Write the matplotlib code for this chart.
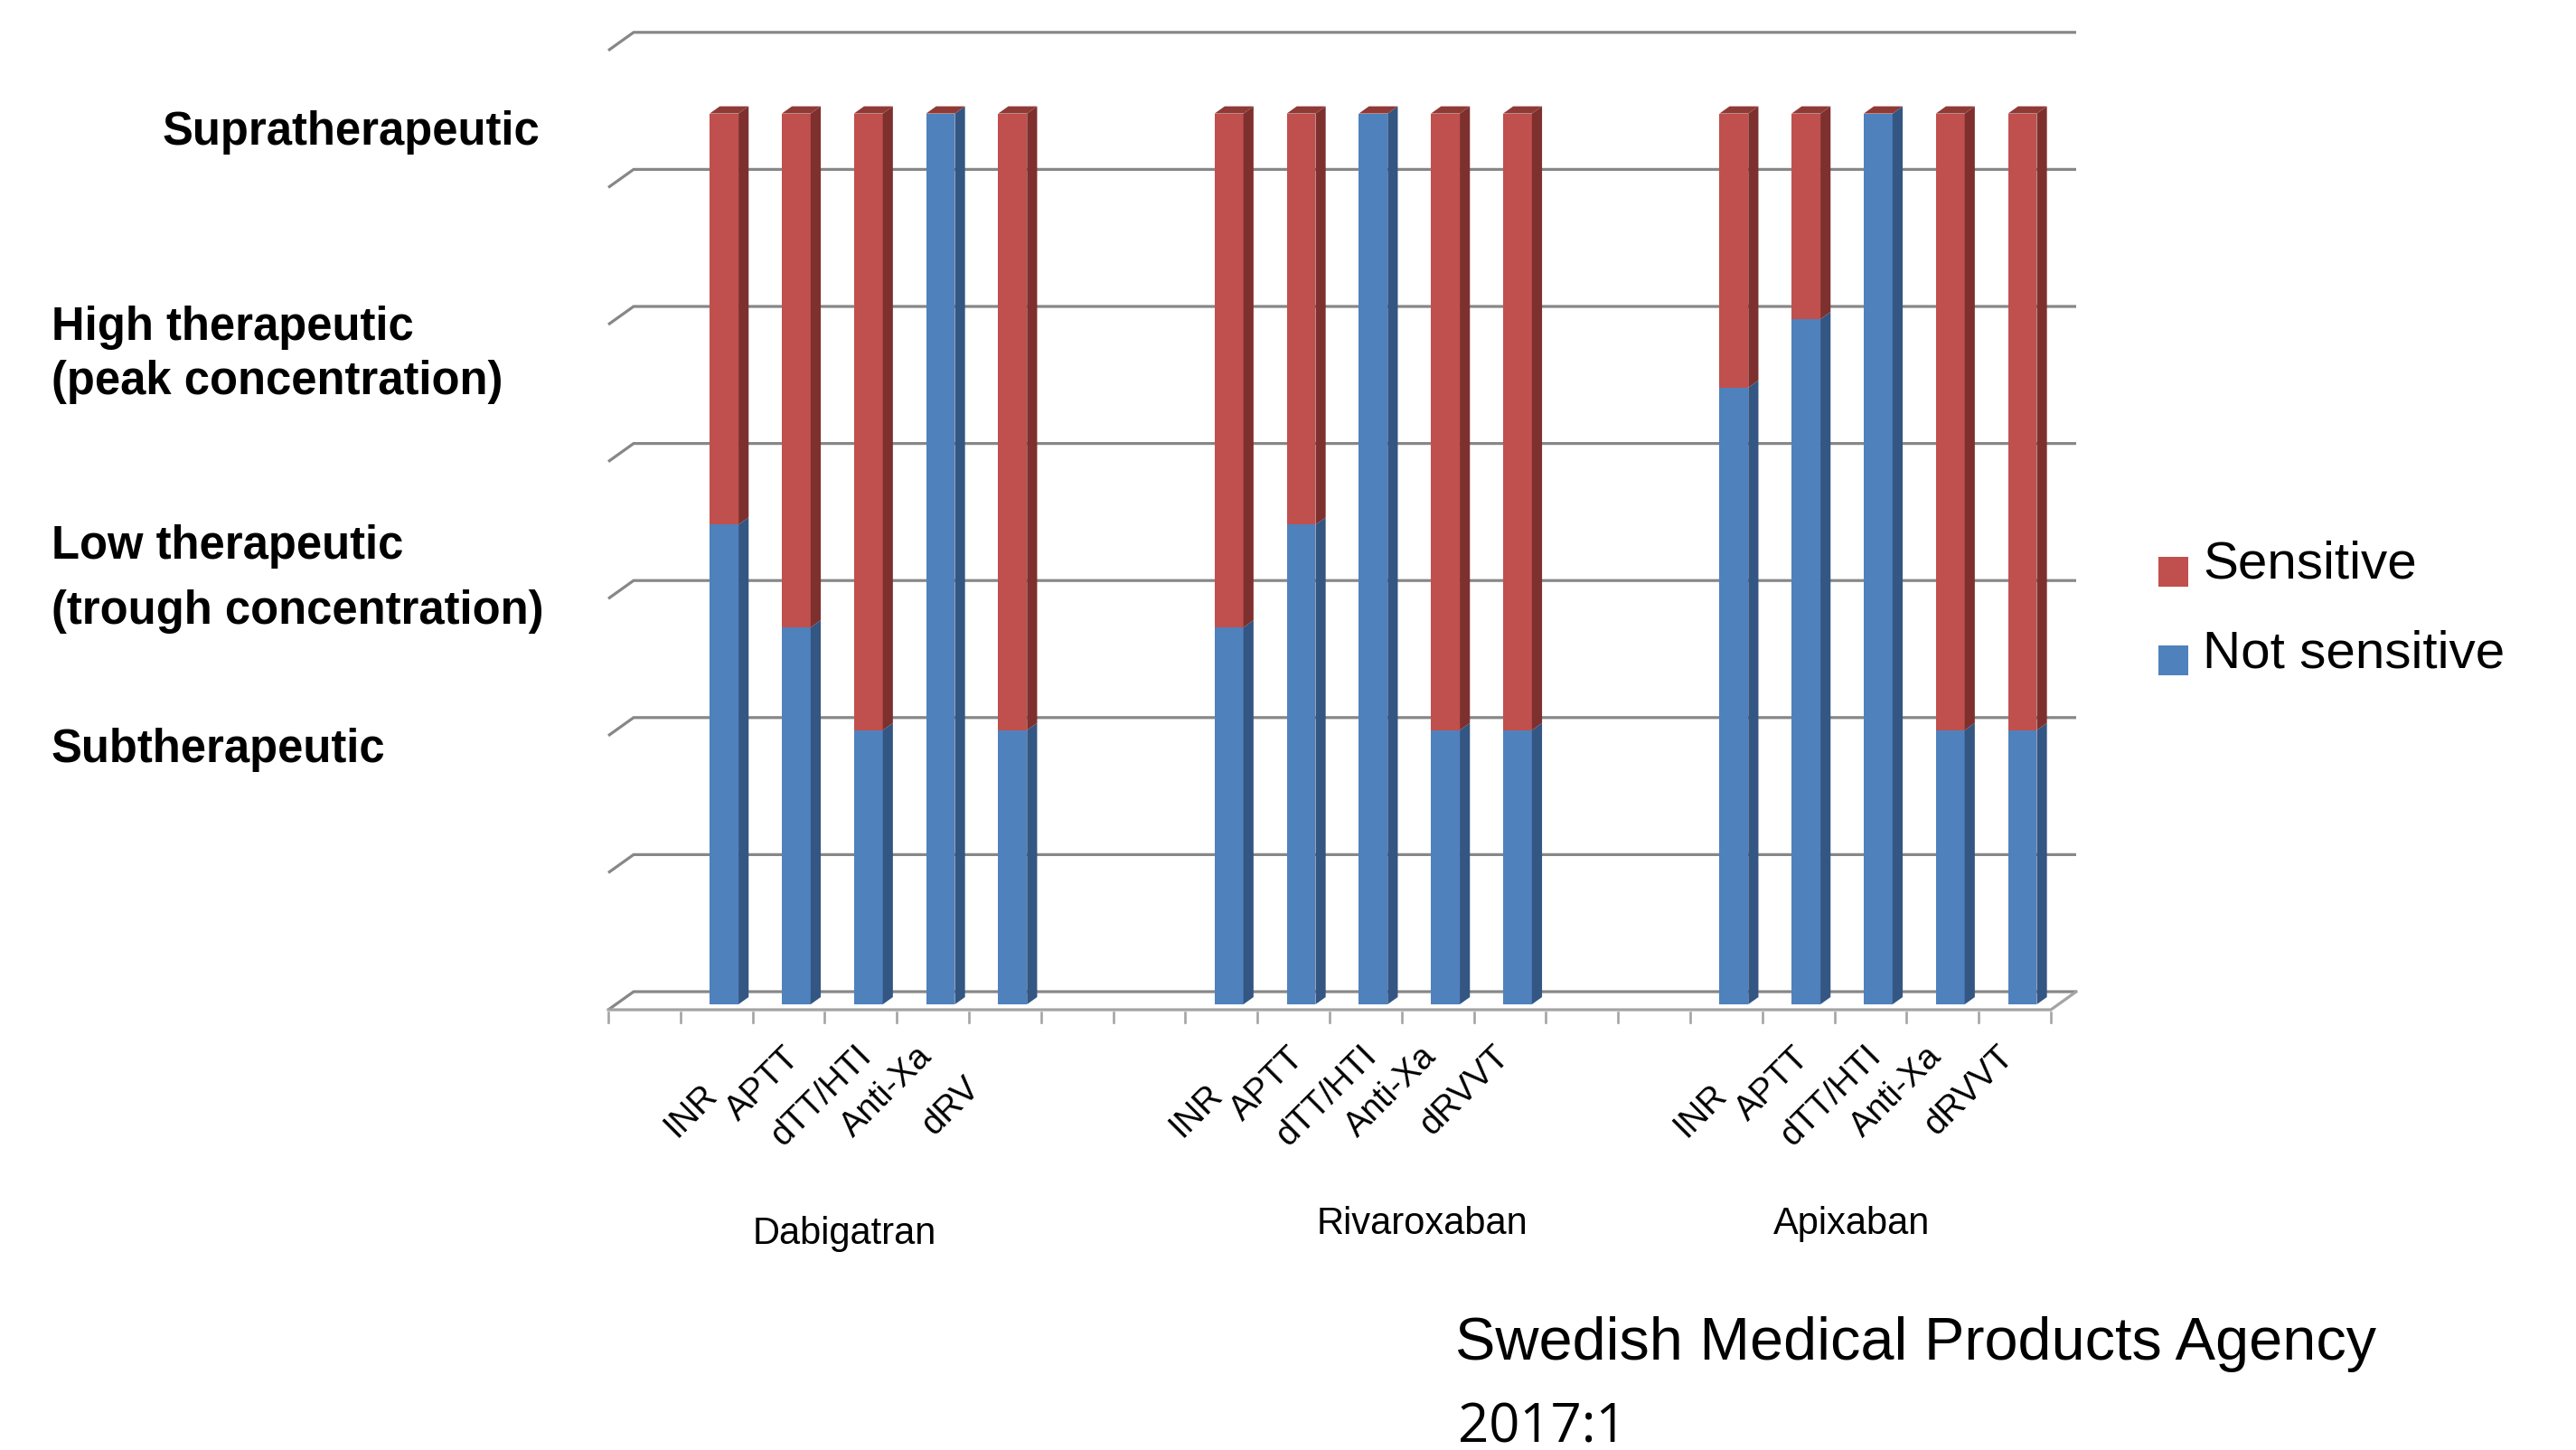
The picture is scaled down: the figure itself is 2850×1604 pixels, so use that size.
import matplotlib
matplotlib.use("Agg")
import matplotlib.pyplot as plt
from matplotlib.patches import Polygon, Rectangle

# ---- data -------------------------------------------------------------
drugs = ["Dabigatran", "Rivaroxaban", "Apixaban"]
tests = [
    ["INR", "APTT", "dTT/HTI", "Anti-Xa", "dRV"],
    ["INR", "APTT", "dTT/HTI", "Anti-Xa", "dRVVT"],
    ["INR", "APTT", "dTT/HTI", "Anti-Xa", "dRVVT"],
]
# concentration range (in grid steps) where each test is not sensitive / sensitive
not_sensitive = [
    [3.5, 2.75, 2.0, 6.5, 2.0],
    [2.75, 3.5, 6.5, 2.0, 2.0],
    [4.5, 5.0, 6.5, 2.0, 2.0],
]
sensitive = [
    [3.0, 3.75, 4.5, 0.0, 4.5],
    [3.75, 3.0, 0.0, 4.5, 4.5],
    [2.0, 1.5, 0.0, 4.5, 4.5],
]
level_lines = ["Supratherapeutic", "High therapeutic", "(peak concentration)",
               "Low therapeutic", "(trough concentration)", "Subtherapeutic"]
series_names = ["Sensitive", "Not sensitive"]
grid_max = 7
n_slots = 20

# ---- styling ------------------------------------------------------------
RED, RED_SIDE, RED_TOP = "#C0504D", "#7E302E", "#8F3A37"
BLUE, BLUE_SIDE = "#4F81BD", "#335683"
GRID = "#878787"
FLOOR = "#A3A3A3"

W, H = 2850, 1604
X0, SX = 673.0, 79.8      # pixel of slot 0 and pixels per slot
Y0, SY = 1117.0, 151.6    # pixel row of floor front and pixels per grid step
DX, DY = 28.0 / SX, 20.0 / SY   # depth vector of the floor, in data units
F0, F1 = 0.3, 0.7               # bar depth span (fraction of floor depth)
BW = 0.4                        # bar width in slots

fig = plt.figure(figsize=(W / 100, H / 100), dpi=100)
fig.patch.set_facecolor("white")
ax = fig.add_axes([0, 0, 1, 1])
ax.set_xlim(-X0 / SX, (W - X0) / SX)
ax.set_ylim((Y0 - H) / SY, Y0 / SY)
ax.axis("off")


def proj(x, y, d):
    return x + d * DX, y + d * DY


lw_px = 72.0 / 100.0
# side wall + back wall gridlines
for k in range(grid_max + 1):
    xa, ya = proj(0, k, 0)
    xb, yb = proj(0, k, 1)
    xc, yc = proj(n_slots, k, 1)
    ax.plot([xa, xb, xc], [ya, yb, yc], color=GRID, lw=3.2 * lw_px,
            solid_capstyle="butt", solid_joinstyle="miter", zorder=1)
# floor front and right edges
fx1, fy1 = proj(n_slots, 0, 1)
ax.plot([0, n_slots, fx1], [0, 0, fy1], color=FLOOR, lw=3.2 * lw_px,
        solid_joinstyle="miter", zorder=1)
# category tick marks
for s in range(n_slots + 1):
    ax.plot([s, s], [-3 / SY, -14 / SY], color=FLOOR, lw=2.6 * lw_px, zorder=1)

# ---- bars ----------------------------------------------------------------
label_top_px = 1150
label_nudge_px = {"INR": (2, 43), "APTT": (13, 2), "dTT/HTI": (13, 0),
                  "dRV": (-27, 35)}
group_start = [1 + 7 * g for g in range(len(drugs))]
for g, drug in enumerate(drugs):
    centers = [group_start[g] + i + 0.5 for i in range(len(tests[g]))]
    fx = [c + F0 * DX for c in centers]
    base = F0 * DY
    ns = not_sensitive[g]
    se = sensitive[g]
    ax.bar(fx, ns, width=BW, bottom=base, color=BLUE, zorder=3, linewidth=0)
    ax.bar(fx, se, width=BW, bottom=[base + v for v in ns], color=RED,
           zorder=3, linewidth=0)
    ddx, ddy = (F1 - F0) * DX, (F1 - F0) * DY
    for x, b, r in zip(fx, ns, se):
        xr = x + BW / 2
        xl = x - BW / 2
        y1 = base + b
        y2 = y1 + r
        ax.add_patch(Polygon([(xr, base), (xr + ddx, base + ddy),
                              (xr + ddx, y1 + ddy), (xr, y1)],
                             closed=True, fc=BLUE_SIDE, ec="none", zorder=3))
        if r > 0:
            ax.add_patch(Polygon([(xr, y1), (xr + ddx, y1 + ddy),
                                  (xr + ddx, y2 + ddy), (xr, y2)],
                                 closed=True, fc=RED_SIDE, ec="none", zorder=3))
        ax.add_patch(Polygon([(xl, y2), (xr, y2), (xr + ddx, y2 + ddy),
                              (xl + ddx, y2 + ddy)],
                             closed=True, fc=RED_TOP, ec="none", zorder=3))
    # rotated test names
    for c, name in zip(centers, tests[g]):
        nx, ny = label_nudge_px.get(name, (0, 0))
        ax.text(c + (6 + nx) / SX, (Y0 - (label_top_px + ny)) / SY, name,
                rotation=45, ha="right", va="top", fontsize=27.5,
                family="Liberation Sans", zorder=4)


def ftext(px, py, s, **kw):
    fig.text(px / W, 1 - py / H, s, **kw)


# drug names under each group
group_px = [(934, 1376), (1574, 1365), (2049, 1365)]
for (px, py), drug in zip(group_px, drugs):
    ftext(px, py, drug, ha="center", va="baseline", fontsize=30,
          family="Liberation Sans")

# concentration levels on the left
level_pos = [(597, 160, "right"), (57, 376, "left"), (57, 436, "left"),
             (57, 618, "left"), (57, 690, "left"), (57, 843, "left")]
for (px, py, ha), s in zip(level_pos, level_lines):
    ftext(px, py, s, ha=ha, va="baseline", fontsize=36.5, fontweight="bold",
          family="Liberation Sans")

# legend
for (py, col), name in zip([(616, RED), (714, BLUE)], series_names):
    fig.add_artist(Rectangle((2388 / W, 1 - (py + 33) / H), 33 / W, 33 / H,
                             transform=fig.transFigure, fc=col, ec="none"))
    ftext(2437, py + 24, name, ha="left", va="baseline", fontsize=42,
          family="Liberation Sans")

# source
ftext(1610, 1504, "Swedish Medical Products Agency", ha="left", va="baseline",
      fontsize=48, family="Liberation Sans")
ftext(1613, 1595, "2017:1", ha="left", va="baseline", fontsize=43,
      family="Open Sans")

fig.savefig("out.png", dpi=100, facecolor="white")
